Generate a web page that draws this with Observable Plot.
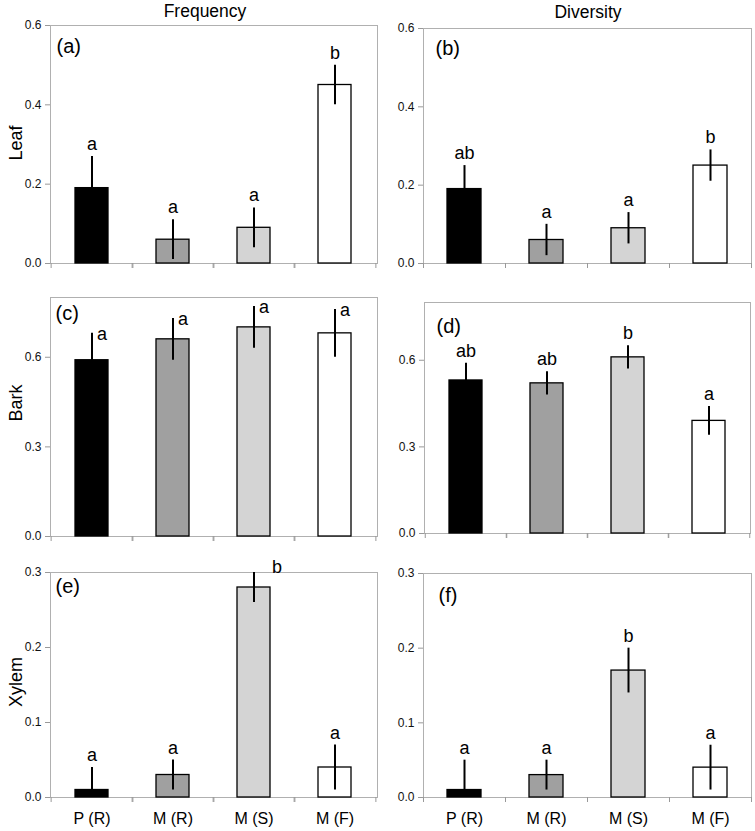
<!DOCTYPE html>
<html><head><meta charset="utf-8">
<script src="https://cdn.jsdelivr.net/npm/d3@7"></script>
<script src="https://cdn.jsdelivr.net/npm/@observablehq/plot@0.6"></script>
<style>
body{margin:0;background:#fff;font-family:"Liberation Sans",Arial,sans-serif;}
#chart{position:relative;width:755px;height:831px;overflow:hidden;background:#fff}
.p{position:absolute}
.ttl{position:absolute;font-size:17.5px;line-height:17px;white-space:nowrap;transform:translateX(-50%);color:#000}
.row{position:absolute;font-size:18px;line-height:18px;white-space:nowrap;transform:translate(-50%,-50%) rotate(-90deg);color:#000}
</style></head>
<body><div id="chart"></div>
<script>
// ---- data ----
const categories = ["P (R)", "M (R)", "M (S)", "M (F)"];
const barColors = ["#000000", "#a0a0a0", "#d4d4d4", "#ffffff"];
const columnTitles = ["Frequency", "Diversity"];
const rowTitles = ["Leaf", "Bark", "Xylem"];

const leafFreq = [0.19, 0.06, 0.09, 0.45];
const leafFreqErr = [0.08, 0.05, 0.05, 0.05];
const leafFreqLetters = ["a", "a", "a", "b"];

const leafDiv = [0.19, 0.06, 0.09, 0.25];
const leafDivErr = [0.06, 0.04, 0.04, 0.04];
const leafDivLetters = ["ab", "a", "a", "b"];

const barkFreq = [0.59, 0.66, 0.70, 0.68];
const barkFreqErr = [0.09, 0.07, 0.07, 0.08];
const barkFreqLetters = ["a", "a", "a", "a"];

const barkDiv = [0.53, 0.52, 0.61, 0.39];
const barkDivErr = [0.06, 0.04, 0.04, 0.05];
const barkDivLetters = ["ab", "ab", "b", "a"];

const xylemFreq = [0.01, 0.03, 0.28, 0.04];
const xylemFreqErr = [0.03, 0.02, 0.02, 0.03];
const xylemFreqLetters = ["a", "a", "b", "a"];

const xylemDiv = [0.01, 0.03, 0.17, 0.04];
const xylemDivErr = [0.04, 0.02, 0.03, 0.03];
const xylemDivLetters = ["a", "a", "b", "a"];

const leafTicks = [0, 0.2, 0.4, 0.6];
const barkTicks = [0, 0.3, 0.6];
const xylemTicks = [0, 0.1, 0.2, 0.3];
const leafDomain = [0, 0.6];
const barkDomain = [0, 0.8];
const xylemDomain = [0, 0.3];

// letter placement (layout)
const placeAbove = ["above", "above", "above", "above"];
const placeRight = ["right", "right", "right", "right"];
const placeXylemFreq = ["above", "above", "beside", "above"];

const rows = (vals, errs, letters, place) =>
  categories.map((c, i) => ({cat: c, v: vals[i], e: errs[i], l: letters[i], p: place[i]}));

const panels = [
  {tag: "(a)", data: rows(leafFreq, leafFreqErr, leafFreqLetters, placeAbove), ticks: leafTicks, domain: leafDomain,
   left: 0, top: 0, width: 380, height: 275, ml: 50, mr: 3, mt: 25, mb: 12, labels: false, tdx: 6, tdy: 13},
  {tag: "(b)", data: rows(leafDiv, leafDivErr, leafDivLetters, placeAbove), ticks: leafTicks, domain: leafDomain,
   left: 380, top: 0, width: 375, height: 275, ml: 43, mr: 4, mt: 28, mb: 12, labels: false, tdx: 12, tdy: 12},
  {tag: "(c)", data: rows(barkFreq, barkFreqErr, barkFreqLetters, placeRight), ticks: barkTicks, domain: barkDomain,
   left: 0, top: 285, width: 380, height: 260, ml: 50, mr: 3, mt: 12, mb: 9, labels: false, tdx: 5, tdy: 8},
  {tag: "(d)", data: rows(barkDiv, barkDivErr, barkDivLetters, placeAbove), ticks: barkTicks, domain: barkDomain,
   left: 380, top: 285, width: 375, height: 260, ml: 44, mr: 5, mt: 17, mb: 12, labels: false, tdx: 12, tdy: 16},
  {tag: "(e)", data: rows(xylemFreq, xylemFreqErr, xylemFreqLetters, placeXylemFreq), ticks: xylemTicks, domain: xylemDomain,
   left: 0, top: 555, width: 380, height: 276, ml: 50, mr: 3, mt: 17, mb: 34, labels: true, tdx: 5, tdy: 6},
  {tag: "(f)", data: rows(xylemDiv, xylemDivErr, xylemDivLetters, placeAbove), ticks: xylemTicks, domain: xylemDomain,
   left: 380, top: 555, width: 375, height: 276, ml: 43, mr: 4, mt: 18, mb: 34, labels: true, tdx: 15, tdy: 14}
];

const chart = document.getElementById("chart");
const FONT = '"Liberation Sans", Arial, Helvetica, sans-serif';

for (const P of panels) {
  const step = (P.width - P.ml - P.mr) / categories.length;
  const marks = [
    Plot.frame({stroke: "#b0b0b0"}),
    Plot.axisY(P.ticks, {tickFormat: d3.format(".1f"), tickSize: 5, tickPadding: 4, stroke: "#999", fill: "#111", fontSize: 12, label: null}),
    Plot.axisX({tickSize: 5, tickFormat: () => "", stroke: "#999", label: null, dx: -step / 2}),
    Plot.axisX({tickSize: 5, tickFormat: () => "", stroke: "#999", label: null, dx: step / 2}),
    Plot.barY(P.data, {x: "cat", y: "v", fill: "cat", stroke: "#000", strokeWidth: 1.3}),
    Plot.ruleX(P.data, {x: "cat", y1: d => Math.max(0, d.v - d.e), y2: d => d.v + d.e, stroke: "#000", strokeWidth: 2}),
    Plot.text(P.data.filter(d => d.p === "above"), {x: "cat", y: d => d.v + d.e, text: "l", lineAnchor: "bottom", dy: -6.5, fontSize: 18, fill: "#000"}),
    Plot.text(P.data.filter(d => d.p === "right"), {x: "cat", y: d => d.v + d.e, text: "l", lineAnchor: "bottom", textAnchor: "start", dx: 5, dy: 7, fontSize: 18, fill: "#000"}),
    Plot.text(P.data.filter(d => d.p === "beside"), {x: "cat", y: d => d.v + d.e, text: "l", lineAnchor: "bottom", textAnchor: "start", dx: 18, dy: 0, fontSize: 18, fill: "#000"}),
    Plot.text([P.tag], {frameAnchor: "top-left", text: d => d, dx: P.tdx, dy: P.tdy, lineAnchor: "top", textAnchor: "start", fontSize: 20, fill: "#000"})
  ];
  if (P.labels) {
    marks.push(Plot.axisX({tickSize: 0, tickPadding: 15, fontSize: 16, fill: "#000", label: null}));
  }
  const svg = Plot.plot({
    width: P.width, height: P.height,
    marginLeft: P.ml, marginRight: P.mr, marginTop: P.mt, marginBottom: P.mb,
    style: {fontFamily: FONT, background: "transparent", overflow: "visible"},
    x: {domain: categories, paddingInner: 0.59, paddingOuter: 0.295, axis: null},
    y: {domain: P.domain, axis: null},
    color: {domain: categories, range: barColors},
    marks
  });
  svg.classList.add("p");
  svg.style.left = P.left + "px";
  svg.style.top = P.top + "px";
  chart.appendChild(svg);
}

// column titles
const titlePos = [[205, 3], [588, 4]];
columnTitles.forEach((t, i) => {
  const d = document.createElement("div");
  d.className = "ttl";
  d.textContent = t;
  d.style.left = titlePos[i][0] + "px";
  d.style.top = titlePos[i][1] + "px";
  chart.appendChild(d);
});
// row titles
const rowPos = [143, 403, 682];
rowTitles.forEach((t, i) => {
  const d = document.createElement("div");
  d.className = "row";
  d.textContent = t;
  d.style.left = "16px";
  d.style.top = rowPos[i] + "px";
  chart.appendChild(d);
});
</script>
</body></html>
